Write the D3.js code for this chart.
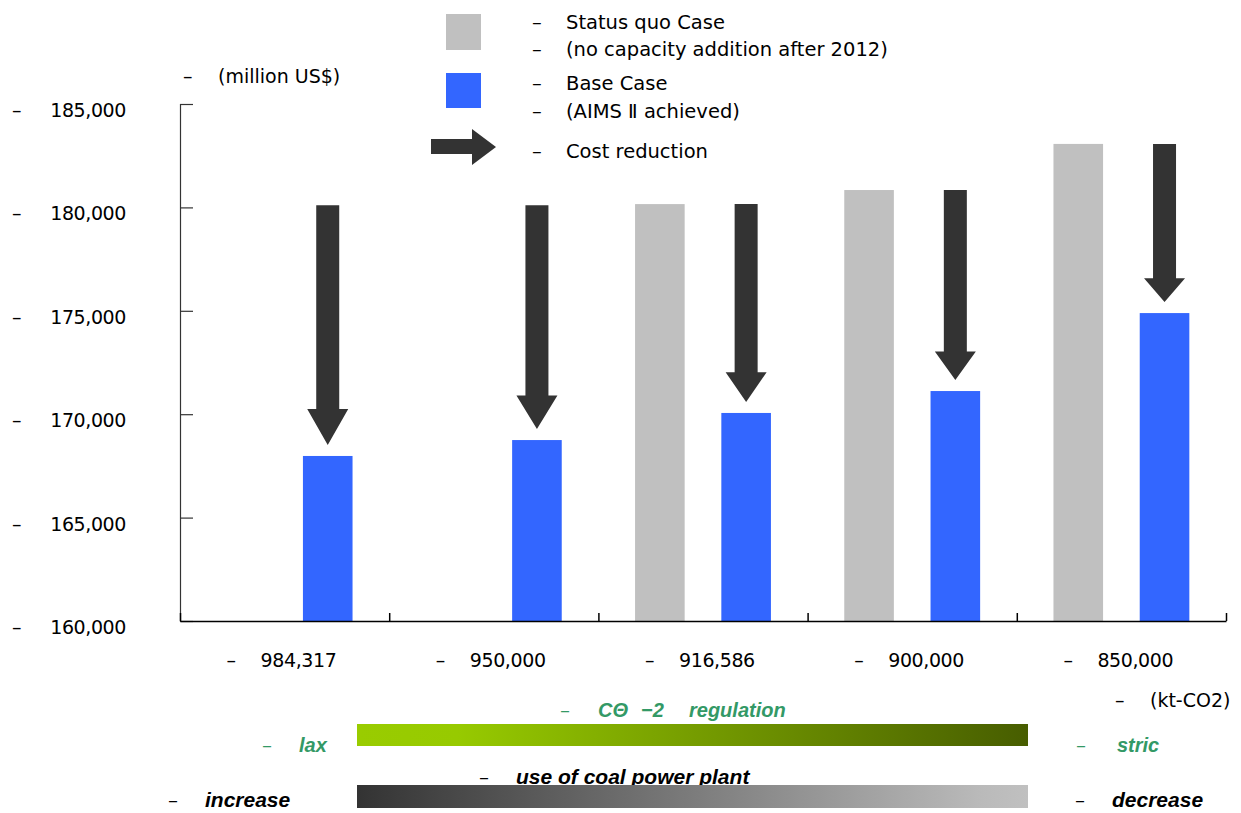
<!DOCTYPE html>
<html>
<head>
<meta charset="utf-8">
<script src="https://cdn.jsdelivr.net/npm/d3@7"></script>
<style>
  html, body { margin: 0; padding: 0; background: #fff; }
  svg { display: block; }
  .reg { font-family: "DejaVu Sans", sans-serif; fill: #000; }
  .bi { font-family: "Liberation Sans", Arial, sans-serif; font-weight: bold; font-style: italic; }
  .bi .dash { font-family: "DejaVu Sans", sans-serif; font-weight: normal; font-style: normal; }
</style>
</head>
<body>
<svg id="chart" width="1241" height="813"></svg>
<script>
// Reduction targets (kt-CO2) on the x axis
const categories = ["984,317", "950,000", "916,586", "900,000", "850,000"];
// Total cost (million US$), Status quo Case; no bar for the two laxest targets
const statusQuo = [null, null, 180160, 180840, 183070];
// Total cost (million US$), Base Case (AIMS II achieved)
const baseCase = [167980, 168750, 170060, 171120, 174890];
// Starting level of each cost-reduction arrow
const arrowFrom = [180100, 180100, 180160, 180840, 183070];
// Y axis ticks
const yTicks = [160000, 165000, 170000, 175000, 180000, 185000];
const seriesKeys = ["sq", "base"];
const seriesColor = { sq: "#c0c0c0", base: "#3366ff" };
const arrowColor = "#333333";

const svg = d3.select("#chart");
const fmt = d3.format(",");

const y = d3.scaleLinear().domain([160000, 185000]).range([621, 104]);
const x0 = d3.scaleBand().domain(categories).range([180, 1226]).padding(0);
const x1 = d3.scaleBand().domain(seriesKeys).range([0, x0.bandwidth()])
  .paddingInner(0.425).paddingOuter(0.425);
const xEdge = d3.scaleLinear().domain([0, categories.length]).range([180, 1226]);

// ---- bars ----
const rows = categories.map((c, i) => ({ cat: c, sq: statusQuo[i], base: baseCase[i], from: arrowFrom[i] }));

const g = svg.append("g");
const groups = g.selectAll("g.cat").data(rows).join("g")
  .attr("class", "cat")
  .attr("transform", d => `translate(${x0(d.cat)},0)`);

groups.selectAll("rect").data(d => seriesKeys.filter(k => d[k] != null).map(k => ({ key: k, value: d[k] })))
  .join("rect")
  .attr("x", d => x1(d.key))
  .attr("width", x1.bandwidth())
  .attr("y", d => y(d.value))
  .attr("height", d => y(160000) - y(d.value))
  .attr("fill", d => seriesColor[d.key]);

// ---- cost-reduction arrows ----
groups.append("path")
  .attr("fill", arrowColor)
  .attr("d", d => {
    const cx = x1("base") + x1.bandwidth() / 2;
    const top = y(d.from);
    const tip = y(d.base) - 11;
    const head = (tip - top) * 0.15;
    const hs = 11.5, hh = 20.5;
    const hy = tip - head;
    return `M${cx - hs},${top}H${cx + hs}V${hy}H${cx + hh}L${cx},${tip}L${cx - hh},${hy}H${cx - hs}Z`;
  });

// ---- axes ----
const yAxis = g.append("g").attr("transform", "translate(180,0)")
  .call(d3.axisLeft(y).tickValues(yTicks).tickSize(-13).tickFormat(""));
yAxis.selectAll("path, line").attr("stroke", "#333").attr("stroke-width", 1.2);

const xAxis = g.append("g").attr("transform", "translate(0,621)")
  .call(d3.axisBottom(xEdge).tickValues(d3.range(0, categories.length + 1)).tickSize(-8).tickSizeOuter(0).tickFormat(""));
xAxis.selectAll("path, line").attr("stroke", "#000").attr("stroke-width", 1.5);

// y tick labels
const yl = svg.append("g").attr("class", "reg").style("font-size", "19px");
yTicks.forEach(t => {
  yl.append("text").attr("x", 12).attr("y", y(t) + 13).text("–");
  yl.append("text").attr("x", 126).attr("y", y(t) + 13).attr("text-anchor", "end")
    .style("letter-spacing", "-0.4px").text(fmt(t));
});
yl.append("text").attr("x", 183).attr("y", 83).text("–");
yl.append("text").attr("x", 218).attr("y", 83).text("(million US$)");

// x tick labels
categories.forEach(c => {
  const cx = x0(c) + x0.bandwidth() / 2;
  yl.append("text").attr("x", cx - 58).attr("y", 667).text("–");
  yl.append("text").attr("x", cx - 24).attr("y", 667).style("letter-spacing", "-0.4px").text(c);
});
yl.append("text").attr("x", 1115).attr("y", 707).text("–");
yl.append("text").attr("x", 1150).attr("y", 707).text("(kt-CO2)");

// ---- legend ----
const lg = svg.append("g").attr("class", "reg").style("font-size", "19.5px");
lg.append("rect").attr("x", 446).attr("y", 14).attr("width", 35).attr("height", 36).attr("fill", seriesColor.sq);
lg.append("rect").attr("x", 446).attr("y", 73).attr("width", 35).attr("height", 35).attr("fill", seriesColor.base);
lg.append("path").attr("fill", arrowColor)
  .attr("d", "M431,139H472V129L496,147L472,165V154H431Z");
const legendLines = [
  ["Status quo Case", 29],
  ["(no capacity addition after 2012)", 56],
  ["Base Case", 90],
  ["(AIMS Ⅱ achieved)", 118],
  ["Cost reduction", 158]
];
legendLines.forEach(([t, by]) => {
  lg.append("text").attr("x", 532).attr("y", by).text("–");
  lg.append("text").attr("x", 566).attr("y", by).text(t);
});

// ---- regulation / coal-use scales ----
const defs = svg.append("defs");
const gGreen = defs.append("linearGradient").attr("id", "gradReg");
[[0, "#99cc00"], [0.15, "#97ca00"], [1, "#475d00"]].forEach(([o, c]) =>
  gGreen.append("stop").attr("offset", o).attr("stop-color", c));
const gGray = defs.append("linearGradient").attr("id", "gradCoal");
[[0, "#333333"], [0.93, "#bababa"], [1, "#c0c0c0"]].forEach(([o, c]) =>
  gGray.append("stop").attr("offset", o).attr("stop-color", c));

const green = "#339966";
const bt = svg.append("g").attr("class", "bi");

function label(x, yb, text, color, size, isDash) {
  const t = bt.append("text").attr("x", x).attr("y", yb).attr("fill", color)
    .style("font-size", size + "px").text(text);
  if (isDash) t.attr("class", "dash");
  return t;
}

// CO2 regulation
label(560, 717, "–", green, 20, true);
label(598, 717, "CΘ", green, 20);
label(641, 717, "−2", green, 20);
label(689, 717, "regulation", green, 20);
svg.append("rect").attr("x", 357).attr("y", 724).attr("width", 671).attr("height", 22).attr("fill", "url(#gradReg)");
label(262, 752, "–", green, 20, true);
label(299, 752, "lax", green, 20);
label(1076, 752, "–", green, 20, true);
label(1117, 752, "stric", green, 20);

// coal power plant use
label(479, 784, "–", "#000", 20, true);
label(516, 784, "use of coal power plant", "#000", 21);
svg.append("rect").attr("x", 357).attr("y", 785).attr("width", 671).attr("height", 23).attr("fill", "url(#gradCoal)");
label(168, 807, "–", "#000", 20, true);
label(205, 807, "increase", "#000", 21);
label(1075, 807, "–", "#000", 20, true);
label(1112, 807, "decrease", "#000", 21);
</script>
</body>
</html>
